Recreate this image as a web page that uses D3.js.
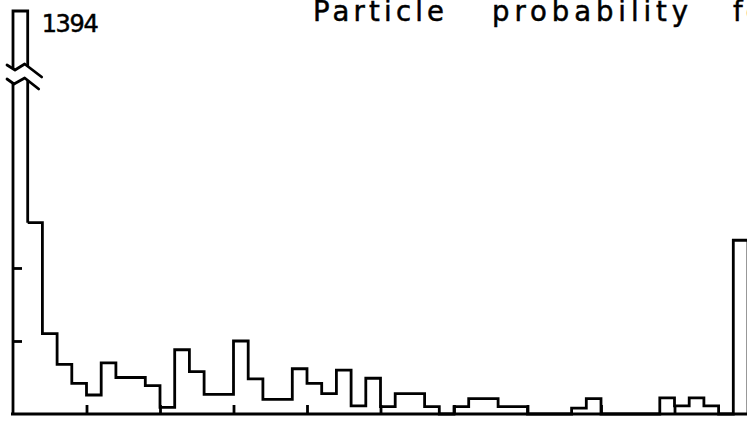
<!DOCTYPE html>
<html>
<head>
<meta charset="utf-8">
<script src="https://cdn.jsdelivr.net/npm/d3@7"></script>
<style>
  html, body { margin: 0; padding: 0; background: #fff; overflow: hidden; }
  svg { display: block; }
  text { font-family: "DejaVu Sans", "Noto Sans", sans-serif; fill: #000; stroke: #000; stroke-width: 0.5; }
</style>
</head>
<body>
<svg id="chart" width="747" height="423"></svg>
<script>
// Counts per bin; bin 0 is off scale and drawn broken with its value written beside it.
const counts = [1394, 262, 110, 68, 42, 26, 70, 50, 50, 39,
                9, 88, 58, 27, 27, 100, 48, 20, 20, 62,
                42, 28, 60, 11, 49, 10, 28, 28, 10, 0,
                10, 21, 21, 10, 10, 0, 0, 0, 8, 21,
                0, 0, 0, 0, 22, 11, 22, 11, 0, 238];
const brokenLabel = "1394";
const yTickValues = [100, 200];
const xTickValues = [5, 10, 15, 20, 25, 30, 35, 40, 45];
const titleWords = ["Particle", "probability", "for"];

const width = 747, height = 423;
const svg = d3.select("#chart");

const x = d3.scaleLinear().domain([0, 50]).range([13, 748]);
const y = d3.scaleLinear().domain([0, 552]).range([414, 11]);

const ink = "#000";
const lw = 2.8;

// Title, each word spread to its own width
const titleLayout = [
  { x: 313, len: 131 },
  { x: 492, len: 196 },
  { x: 733, len: null }
];
const title = svg.append("g").attr("class", "title");
titleWords.forEach((w, i) => {
  const t = title.append("text")
    .attr("x", titleLayout[i].x)
    .attr("y", 20.5)
    .attr("font-size", 27.5)
    .text(w);
  if (titleLayout[i].len) {
    t.attr("textLength", titleLayout[i].len).attr("lengthAdjust", "spacing");
  } else {
    t.attr("letter-spacing", 3);
  }
});

// Axes: ticks point into the plot, no labels
const xAxis = svg.append("g")
  .attr("transform", `translate(0,${y(0)})`)
  .call(d3.axisTop(x).tickValues(xTickValues).tickSize(9).tickSizeOuter(0).tickFormat(""));
xAxis.select(".domain").attr("d", `M${x(0) - 2},0H${width + 2}`);

const yAxis = svg.append("g")
  .attr("transform", `translate(${x(0)},0)`)
  .call(d3.axisRight(y).tickValues(yTickValues).tickSize(9).tickFormat(""));
yAxis.select(".domain").remove();

svg.selectAll(".tick line, .domain")
  .attr("stroke", ink)
  .attr("stroke-width", lw);

// Broken first bar with the break marks
const x0 = x(0), x1 = x(1), yTop = y(y.domain()[1]);
const yb = 76;
const upperBreak = [[x0 - 6, yb - 11], [x0 + 2, yb - 6], [x1 - 3, yb - 12], [x1 + 14, yb + 1]];
const lowerBreak = [[x0 - 6, yb + 3], [x0 + 1, yb + 8], [x1 - 3, yb + 2], [x1 + 11, yb + 13]];

function crossY(pts, xv) {
  for (let i = 0; i < pts.length - 1; i++) {
    const [ax, ay] = pts[i], [bx, by] = pts[i + 1];
    if ((xv - ax) * (xv - bx) <= 0 && ax !== bx) {
      return ay + (by - ay) * (xv - ax) / (bx - ax);
    }
  }
  return pts[0][1];
}

const brokenBar = d3.path();
brokenBar.moveTo(x0, y(0));
brokenBar.lineTo(x0, crossY(lowerBreak, x0));
brokenBar.moveTo(x0, crossY(upperBreak, x0));
brokenBar.lineTo(x0, yTop);
brokenBar.lineTo(x1, yTop);
brokenBar.lineTo(x1, crossY(upperBreak, x1));
brokenBar.moveTo(x1, crossY(lowerBreak, x1));
brokenBar.lineTo(x1, y(counts[1]));

const breakLine = d3.line();
svg.append("path")
  .attr("d", brokenBar.toString())
  .attr("fill", "none").attr("stroke", ink).attr("stroke-width", lw);
[upperBreak, lowerBreak].forEach(p => {
  svg.append("path")
    .attr("d", breakLine(p))
    .attr("fill", "none").attr("stroke", ink).attr("stroke-width", lw)
    .attr("stroke-linejoin", "round").attr("stroke-linecap", "round");
});

svg.append("text")
  .attr("x", x1 + 14)
  .attr("y", 32)
  .attr("font-size", 24)
  .attr("textLength", 57)
  .attr("lengthAdjust", "spacing")
  .text(brokenLabel);

// Step outline of the remaining bins
const pts = counts.slice(1).map((v, i) => [i + 1, v]);
pts.push([counts.length, counts[counts.length - 1]]);
pts.push([counts.length, 0]);

const step = d3.line()
  .x(d => x(d[0]))
  .y(d => y(d[1]))
  .curve(d3.curveStepAfter);

svg.append("path")
  .attr("d", step(pts))
  .attr("fill", "none")
  .attr("stroke", ink)
  .attr("stroke-width", lw)
  .attr("stroke-linejoin", "miter");
</script>
</body>
</html>
